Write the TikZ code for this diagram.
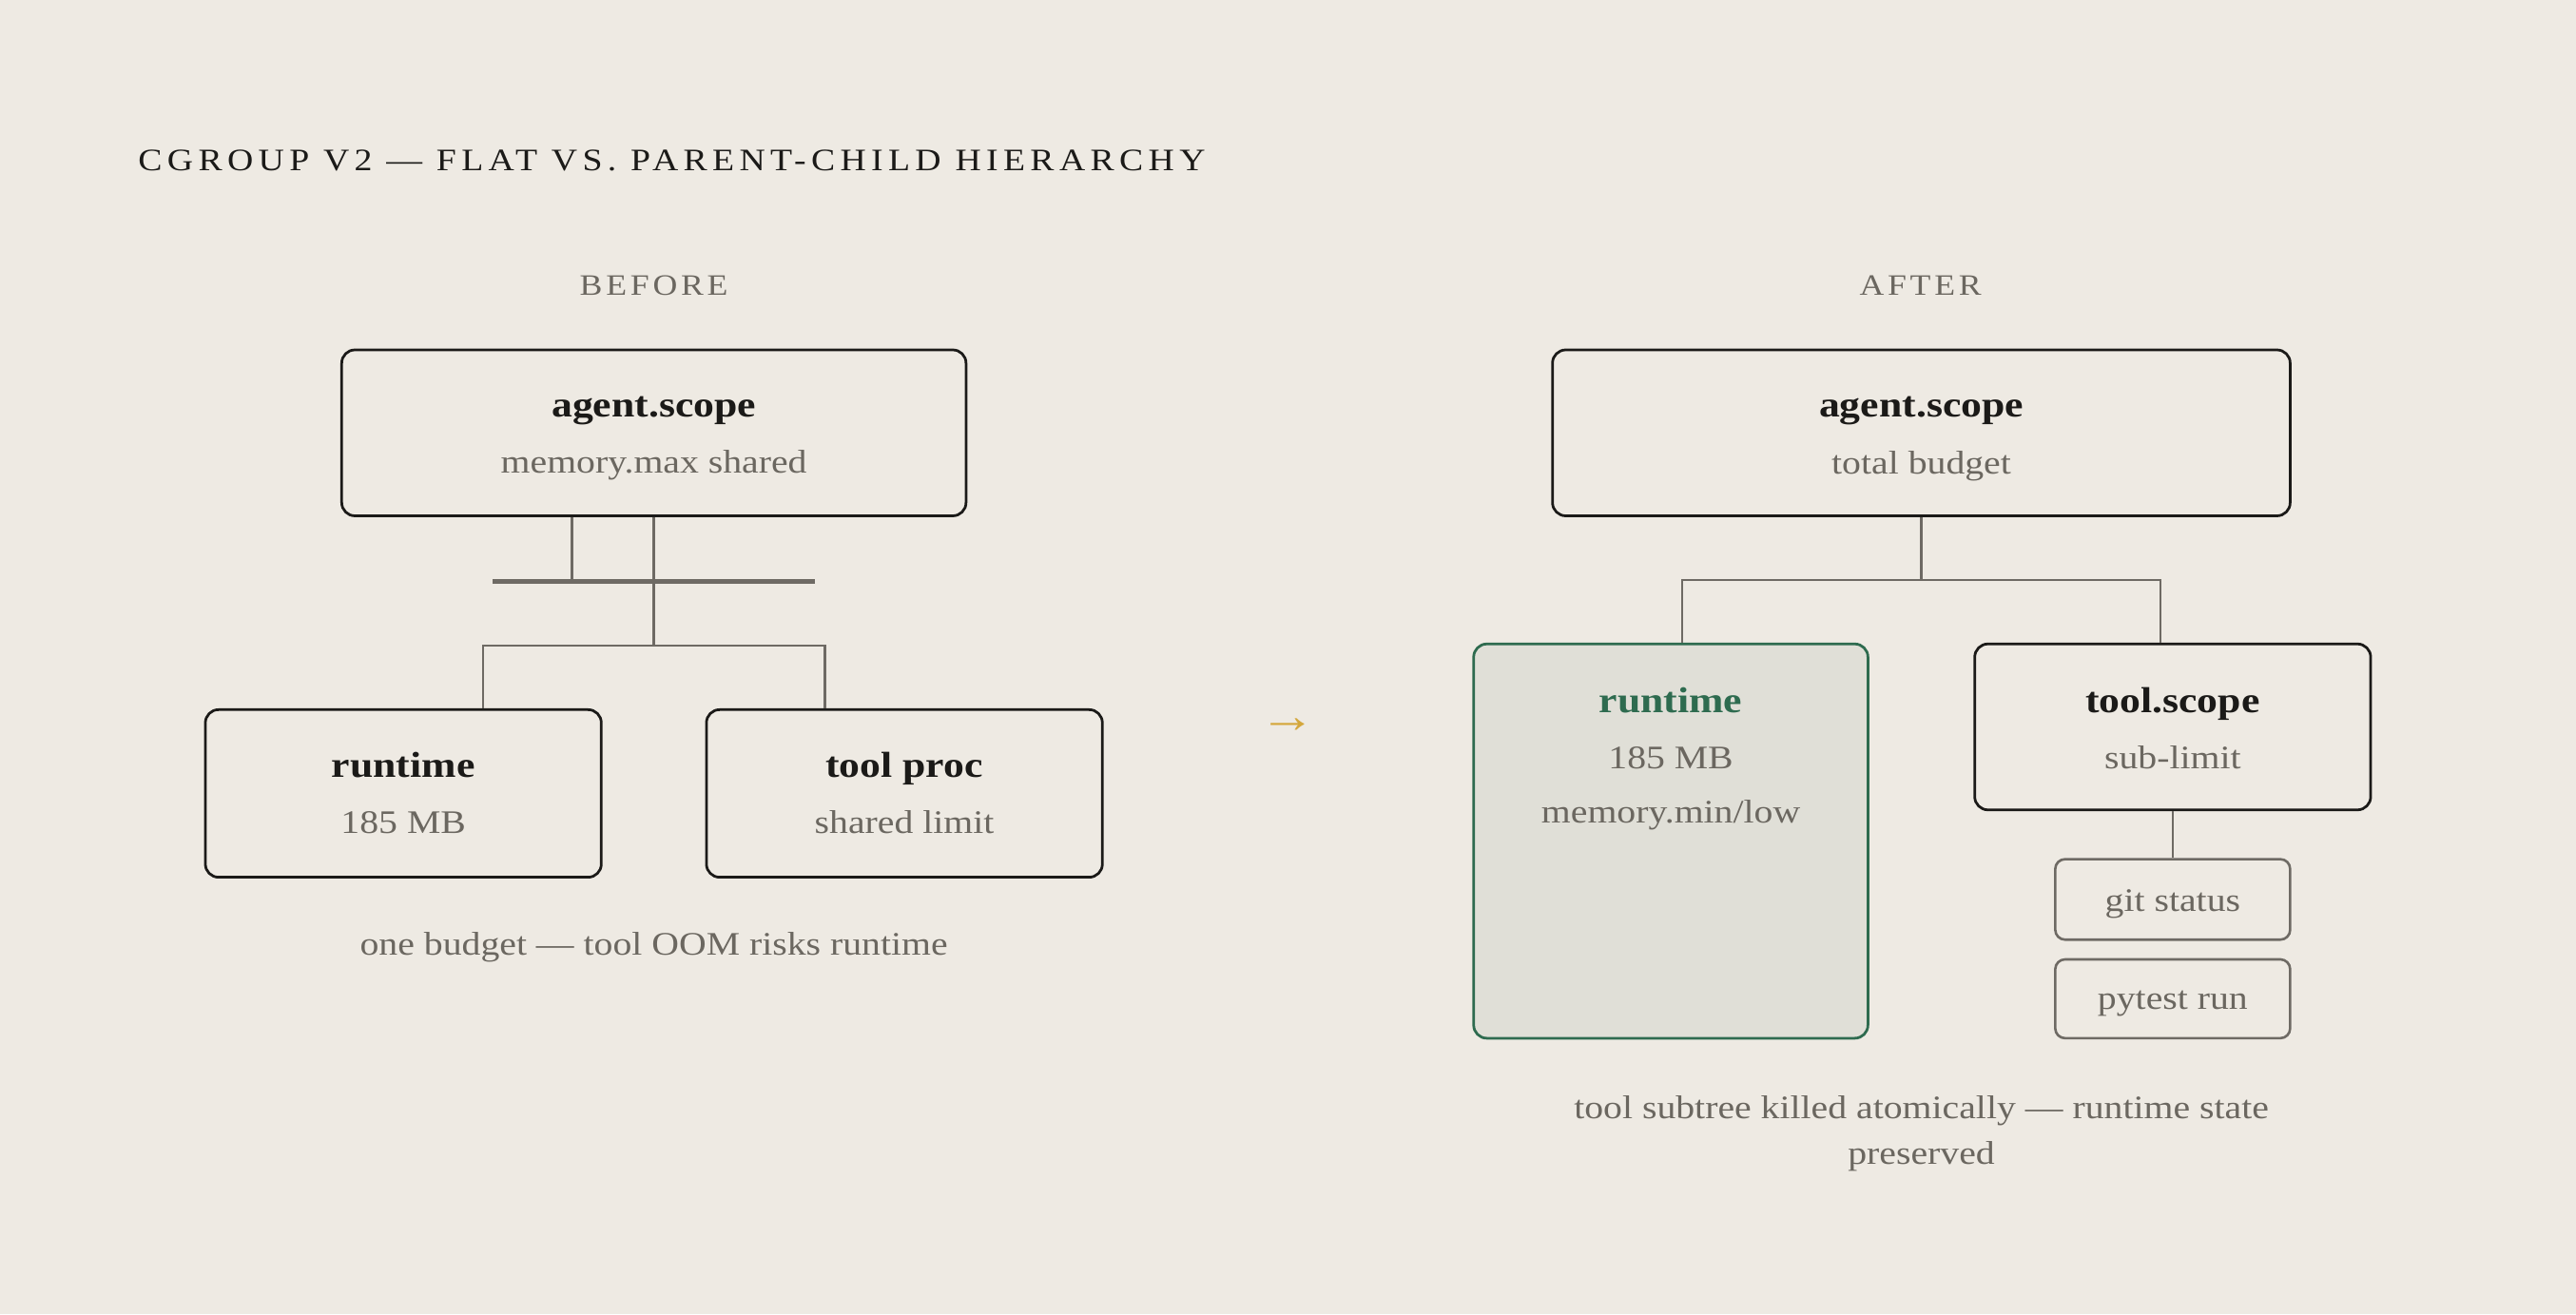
\documentclass[tikz,border=0pt]{standalone}
\usepackage{fontspec}
\setmainfont{Liberation Serif}[FakeStretch=1.15]
\definecolor{bg}{HTML}{EEEAE3}
\definecolor{ink}{HTML}{1B1A18}
\definecolor{muted}{HTML}{6B6760}
\definecolor{linec}{HTML}{6E6A64}
\definecolor{grn}{HTML}{2E6B4F}
\definecolor{grnfill}{HTML}{E0DFD7}
\definecolor{gold}{HTML}{D4A73C}
\begin{document}
\begin{tikzpicture}[x=1pt,y=-1pt,
  box/.style={draw=ink, line width=1.6pt, rounded corners=8pt, fill=bg, inner sep=0pt},
  smallbox/.style={draw=linec, line width=1.5pt, rounded corners=6pt, fill=bg, inner sep=0pt, minimum width=143pt},
  greenbox/.style={draw=grn, line width=1.6pt, rounded corners=8pt, fill=grnfill, inner sep=0pt},
  conn/.style={draw=linec, line width=1.5pt},
  bar/.style={draw=linec, line width=2.6pt},
  ttl/.style={font=\bfseries\fontsize{22}{26}\selectfont, text=ink, anchor=base, inner sep=0pt},
  sub/.style={font=\fontsize{20}{24}\selectfont, text=muted, anchor=base, inner sep=0pt},
  captxt/.style={font=\fontsize{20}{28}\selectfont, text=muted, anchor=base, inner sep=0pt},
  head/.style={font=\fontsize{18}{22}\selectfont\addfontfeatures{LetterSpace=12}, text=muted, anchor=base, inner sep=0pt},
]
\fill[bg] (0,0) rectangle (1568,800);
\useasboundingbox (0,0) rectangle (1568,800);

% title
\node[font=\fontsize{19}{22}\selectfont\addfontfeatures{LetterSpace=16.3}, text=ink, anchor=base west, inner sep=0pt] (title) at (84,104) {CGROUP V2 — FLAT VS. PARENT-CHILD HIERARCHY};

% ---------- BEFORE ----------
\node[head] (hbefore) at (398,180) {BEFORE};
\node[box, minimum width=380pt, minimum height=101pt] (a1) at (398,263.5) {};
\node[ttl] (a1t) at (398,254) {agent.scope};
\node[sub] (a1s) at (398,288) {memory.max shared};

\node[box, minimum width=241pt, minimum height=102pt] (r1) at (245.5,483) {};
\node[ttl] (r1t) at (245.5,473) {runtime};
\node[sub] (r1s) at (245.5,507.5) {185 MB};

\node[box, minimum width=241pt, minimum height=102pt] (t1) at (550.5,483) {};
\node[ttl] (t1t) at (550.5,473) {tool proc};
\node[sub] (t1s) at (550.5,507.5) {shared limit};

\coordinate (barL) at (300,354);
\coordinate (barR) at (496,354);
\coordinate (busB) at (398,393);
\draw[bar] (barL) -- (barR);
\draw[conn] ([xshift=-50pt]a1.south) -- ([xshift=-50pt]a1.south |- barL);
\draw[conn] (a1.south) -- (busB);
\draw[conn] ([xshift=48.5pt]r1.north) |- (busB) -| ([xshift=-48.5pt]t1.north);

\node[captxt] (capB) at (398,581.5) {one budget — tool OOM risks runtime};

% arrow
\node[font=\fontsize{30}{30}\selectfont, text=gold, inner sep=0pt] (arr) at (784,442) {→};

% ---------- AFTER ----------
\node[head] (hafter) at (1169,180) {AFTER};
\node[box, minimum width=449pt, minimum height=101pt] (a2) at (1169.5,263.5) {};
\node[ttl] (a2t) at (1169.5,254) {agent.scope};
\node[sub] (a2s) at (1169.5,288.5) {total budget};

\node[greenbox, minimum width=240pt, minimum height=240pt] (r2) at (1017,512) {};
\node[ttl, text=grn] (r2t) at (1017,434) {runtime};
\node[sub] (r2s) at (1017,468) {185 MB};
\node[sub] (r2m) at (1017,501) {memory.min/low};

\node[box, minimum width=241pt, minimum height=101pt] (t2) at (1322.5,442.5) {};
\node[ttl] (t2t) at (1322.5,434) {tool.scope};
\node[sub] (t2s) at (1322.5,468) {sub-limit};

\node[smallbox, minimum height=49pt] (g1) at (1322.5,547.5) {};
\node[sub] (g1t) at (1322.5,554.5) {git status};
\node[smallbox, minimum height=48pt] (p1) at (1322.5,608) {};
\node[sub] (p1t) at (1322.5,614.5) {pytest run};

\coordinate (busA) at (1169.5,353);
\draw[conn] (a2.south) -- (busA);
\draw[conn] ([xshift=7pt]r2.north) |- (busA) -| ([xshift=-7.5pt]t2.north);
\draw[conn] (t2.south) -- (g1.north);

\node[captxt] (capA1) at (1169.5,681) {tool subtree killed atomically — runtime state};
\node[captxt] (capA2) at (1169.5,709) {preserved};
\end{tikzpicture}
\end{document}
